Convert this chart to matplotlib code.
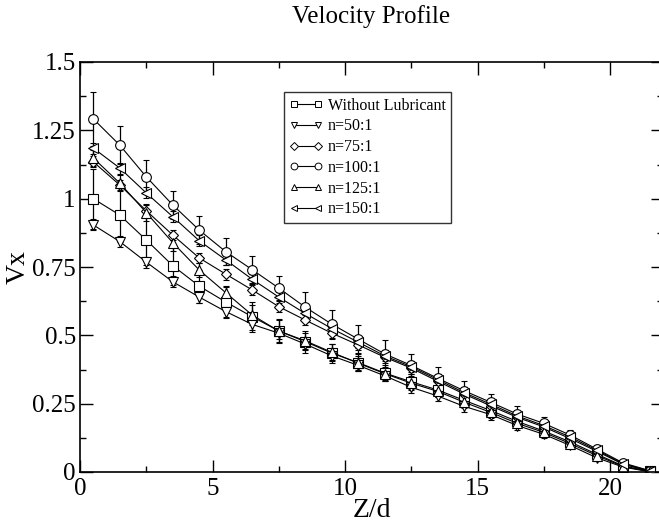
import matplotlib
matplotlib.use("Agg")
import matplotlib.pyplot as plt
from matplotlib.lines import Line2D
import numpy as np

z = [0.5, 1.5, 2.5, 3.5, 4.5, 5.5, 6.5, 7.5, 8.5, 9.5, 10.5,
     11.5, 12.5, 13.5, 14.5, 15.5, 16.5, 17.5, 18.5, 19.5, 20.5, 21.5]

v_without = [1.0, 0.94, 0.849, 0.755, 0.68, 0.622, 0.568, 0.516, 0.477, 0.435, 0.40,
             0.362, 0.33, 0.30, 0.262, 0.225, 0.185, 0.15, 0.11, 0.065, 0.022, 0.002]
e_without = [0.11, 0.10, 0.09, 0.07, 0.06, 0.06, 0.055, 0.045, 0.04, 0.035, 0.03,
             0.03, 0.03, 0.025, 0.025, 0.02, 0.02, 0.02, 0.015, 0.015, 0.01, 0.005]

v_50 = [0.904, 0.843, 0.768, 0.696, 0.64, 0.587, 0.54, 0.508, 0.468, 0.425, 0.39,
        0.352, 0.31, 0.278, 0.24, 0.21, 0.17, 0.138, 0.097, 0.052, 0.018, 0.001]
e_50 = [0.02, 0.02, 0.02, 0.02, 0.02, 0.02, 0.02, 0.02, 0.02, 0.02, 0.02,
        0.02, 0.02, 0.02, 0.02, 0.02, 0.015, 0.015, 0.01, 0.01, 0.005, 0.003]

v_75 = [1.135, 1.05, 0.956, 0.867, 0.783, 0.724, 0.666, 0.605, 0.556, 0.508, 0.465,
        0.42, 0.38, 0.332, 0.285, 0.242, 0.2, 0.165, 0.122, 0.076, 0.028, 0.003]
e_75 = [0.02, 0.02, 0.02, 0.02, 0.02, 0.02, 0.02, 0.02, 0.02, 0.02, 0.02,
        0.02, 0.02, 0.02, 0.02, 0.02, 0.015, 0.015, 0.01, 0.01, 0.005, 0.003]

v_100 = [1.292, 1.196, 1.08, 0.977, 0.885, 0.806, 0.74, 0.673, 0.603, 0.541, 0.486,
         0.432, 0.39, 0.343, 0.297, 0.255, 0.212, 0.178, 0.135, 0.084, 0.033, 0.005]
e_100 = [0.10, 0.07, 0.06, 0.05, 0.05, 0.05, 0.05, 0.045, 0.055, 0.05, 0.05,
         0.05, 0.04, 0.04, 0.035, 0.03, 0.03, 0.025, 0.02, 0.015, 0.01, 0.005]

v_125 = [1.149, 1.057, 0.949, 0.839, 0.739, 0.656, 0.574, 0.516, 0.48, 0.438, 0.398,
         0.36, 0.325, 0.295, 0.255, 0.218, 0.178, 0.145, 0.104, 0.06, 0.02, 0.002]
e_125 = [0.03, 0.03, 0.03, 0.03, 0.025, 0.022, 0.037, 0.04, 0.03, 0.03, 0.025,
         0.025, 0.02, 0.02, 0.02, 0.02, 0.015, 0.015, 0.01, 0.01, 0.005, 0.003]

v_150 = [1.185, 1.112, 1.021, 0.934, 0.846, 0.776, 0.705, 0.64, 0.58, 0.525, 0.475,
         0.425, 0.385, 0.338, 0.29, 0.248, 0.205, 0.17, 0.128, 0.08, 0.03, 0.004]
e_150 = [0.02, 0.02, 0.02, 0.02, 0.02, 0.02, 0.02, 0.02, 0.02, 0.02, 0.02,
         0.02, 0.02, 0.02, 0.02, 0.02, 0.015, 0.015, 0.01, 0.01, 0.005, 0.003]

labels = ["Without Lubricant", "n=50:1", "n=75:1", "n=100:1", "n=125:1", "n=150:1"]
series = [v_without, v_50, v_75, v_100, v_125, v_150]
errors = [e_without, e_50, e_75, e_100, e_125, e_150]
markers = ["s", "v", "D", "o", "^", "<"]
msizes = [6.5, 6.5, 5.2, 7, 6.5, 6.5]

plt.rcParams['font.family'] = ['Liberation Serif', 'DejaVu Serif']

W, H = 659, 527
fig = plt.figure(figsize=(W / 100, H / 100), dpi=100)
left, right, top, bottom = 80, 663, 62, 472
ax = fig.add_axes([left / W, 1 - bottom / H, (right - left) / W, (bottom - top) / H])

handles = []
for v, e, m, ms, lab in zip(series, errors, markers, msizes, labels):
    ax.errorbar(z, v, yerr=e, fmt='-', marker=m, ms=ms, mfc='white', mec='black',
                mew=0.8, color='black', lw=0.8, ecolor='black', elinewidth=0.9,
                capsize=2.5, capthick=0.9)
    handles.append(Line2D([], [], color='black', lw=0.8, marker=m, ms=ms * 0.7,
                          mfc='white', mec='black', mew=0.7, label=lab))

ax.set_xlim(0, 22)
ax.set_ylim(0, 1.5)
ax.set_xticks([0, 5, 10, 15, 20])
ax.set_xticks([2.5, 7.5, 12.5, 17.5], minor=True)
ax.set_yticks([0, 0.25, 0.5, 0.75, 1.0, 1.25, 1.5])
ax.set_yticklabels(["0", "0.25", "0.5", "0.75", "1", "1.25", "1.5"])
ax.set_yticks(np.arange(0.125, 1.5, 0.25), minor=True)
ax.tick_params(which='both', direction='in', top=True, right=True, width=1.0,
               labelsize=18)
ax.tick_params(axis='x', pad=4)
ax.tick_params(axis='y', pad=3)
ax.tick_params(which='major', length=9)
ax.tick_params(which='minor', length=4.5)
for s in ax.spines.values():
    s.set_linewidth(1.2)

ax.set_xlabel("Z/d", fontsize=20, labelpad=-1)
ax.set_ylabel("Vx", fontsize=20, labelpad=1)

fig.text((left + right) / 2 / W, 1 - 17 / H, "Velocity Profile", ha='center',
         va='center', fontsize=18)

leg = ax.legend(handles=handles, loc='upper left', bbox_to_anchor=(0.35, 0.927),
                borderaxespad=0, fontsize=11.5, numpoints=2, handlelength=2.1,
                frameon=True, fancybox=False, edgecolor='black',
                labelspacing=0.3, handletextpad=0.3, borderpad=0.35)
leg.get_frame().set_linewidth(1.0)

fig.savefig("out.png", dpi=100)
